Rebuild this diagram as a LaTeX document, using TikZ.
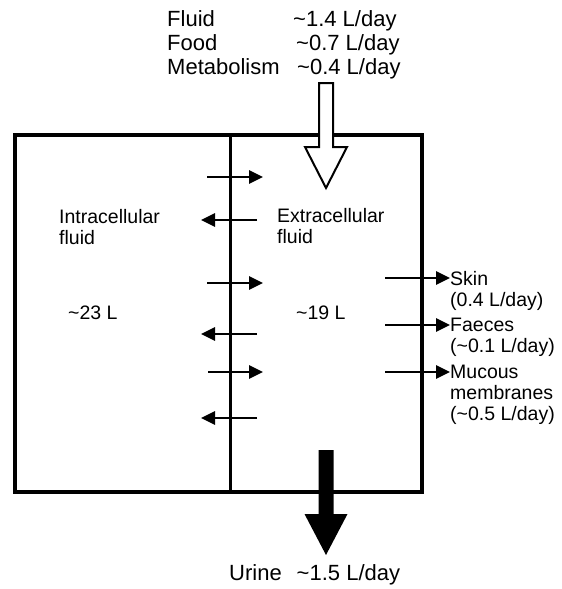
\documentclass[tikz,border=0pt]{standalone}
\usepackage{fontspec}
\setmainfont{Liberation Sans}
\usetikzlibrary{arrows.meta}

\begin{document}
\begin{tikzpicture}[x=1pt,y=-1pt,
    flow/.style={line width=2.8pt,-{Triangle[length=14pt,width=13pt]}},
    big/.style={inner sep=0pt,font=\fontsize{22}{24}\selectfont},
    lbl/.style={inner sep=0pt,align=left,font=\fontsize{19.5}{21}\selectfont}]
            \useasboundingbox (0,0) rectangle (562,589);
            % intake text
            \node[big,anchor=base west] at (167,27) (fluid) {Fluid};
            \node[big,anchor=base west] at (167,50) (food) {Food};
            \node[big,anchor=base west] at (167,74) (metab) {Metabolism};
            \node[big,anchor=base west] at (293,27) (fluidv) {\textasciitilde1.4 L/day};
            \node[big,anchor=base west] at (296,50) (foodv) {\textasciitilde0.7 L/day};
            \node[big,anchor=base west] at (297,74) (metabv) {\textasciitilde0.4 L/day};
            % compartments
            \draw[line width=3.2pt] (15,135) rectangle (422,492);
            \draw[line width=3pt] (230,135) -- (230,492);
            \node[lbl,anchor=west] at (59,227) (icf) {Intracellular\\fluid};
            \node[lbl,anchor=west] at (277,226) (ecf) {Extracellular\\fluid};
            \node[lbl,anchor=west] at (68,313) (icfv) {\textasciitilde23 L};
            \node[lbl,anchor=west] at (296,313) (ecfv) {\textasciitilde19 L};
            % exchange across the membrane
            \draw[flow] (207,177) -- (263,177);
            \draw[flow] (257,220) -- (201,220);
            \draw[flow] (207,283) -- (263,283);
            \draw[flow] (257,334) -- (201,334);
            \draw[flow] (208,372) -- (263,372);
            \draw[flow] (257,418) -- (201,418);
            % losses
            \node[lbl,anchor=north west] at (450,271) (skin) {Skin\\(0.4 L/day)};
            \node[lbl,anchor=north west] at (450,318) (faeces) {Faeces\\(\textasciitilde0.1 L/day)};
            \node[lbl,anchor=north west] at (450,365) (mucous) {Mucous\\membranes\\(\textasciitilde0.5 L/day)};
            \draw[flow] (385,278) -- (skin.west |- 0,278);
            \draw[flow] (385,325) -- (faeces.west |- 0,325);
            \draw[flow] (385,372) -- (mucous.west |- 0,372);
            % big arrows
            \coordinate (intake) at (326,83);
            \coordinate (output) at (326,450);
            \draw[fill=white,line width=2pt,line join=miter] (intake) ++(-7,0) -- ++(14,0) -- ++(0,64) -- ++(14,0)
                -- ++(-21,41) -- ++(-21,-41) -- ++(14,0) -- cycle;
            \fill[black] (output) ++(-7.5,0) -- ++(15,0) -- ++(0,64) -- ++(14,0)
                -- ++(-21.5,41) -- ++(-21.5,-41) -- ++(14,0) -- cycle;
            \node[big,anchor=base west] at (229,580) (urine) {Urine\hspace{15pt}\textasciitilde1.5 L/day};
          \end{tikzpicture}
\end{document}
